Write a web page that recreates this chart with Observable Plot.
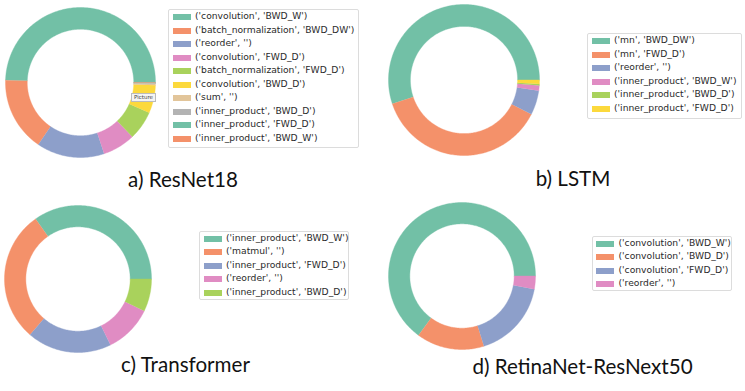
<!DOCTYPE html>
<html>
<head>
<meta charset="utf-8">
<script src="https://cdn.jsdelivr.net/npm/d3@7"></script>
<script src="https://cdn.jsdelivr.net/npm/@observablehq/plot@0.6"></script>
<style>
  html, body { margin: 0; padding: 0; background: #fff; }
  #root { position: relative; width: 745px; height: 391px; overflow: hidden; background: #fff; }
  .ring { position: absolute; }
  .legend { position: absolute; border: 1px solid #dcdcdc; border-radius: 2px; background: #fff; box-sizing: border-box; }
  .row { position: absolute; left: 0; height: 12px; white-space: nowrap; font-family: "DejaVu Sans", sans-serif; font-size: 9.2px; color: #2a2a2a; }
  .patch { position: absolute; width: 18px; height: 6px; top: 3px; }
  .label { position: absolute; top: -1px; line-height: 12px; }
  .title { position: absolute; font-family: Lato, "Open Sans", sans-serif; font-size: 20.6px; color: #111; white-space: nowrap; transform: translateX(-50%); }
  .tip { position: absolute; font-family: "DejaVu Sans", sans-serif; font-size: 5.5px; color: #444; background: #f4f4f4; border: 1px solid #bbb; padding: 0 2px; line-height: 7px; }
</style>
</head>
<body>
<div id="root"></div>
<script>
// ---- Data ----
// Set2 palette, as it appears in the (slightly washed-out) reference
const set2 = ["#72c0a6", "#f4916a", "#8d9fca", "#e08cc3", "#a9d25c", "#fcd93c", "#e2c59a", "#b3b3b3"];

const resnetLabels = ["('convolution', 'BWD_W')", "('batch_normalization', 'BWD_DW')", "('reorder', '')", "('convolution', 'FWD_D')", "('batch_normalization', 'FWD_D')", "('convolution', 'BWD_D')", "('sum', '')", "('inner_product', 'BWD_D')", "('inner_product', 'FWD_D')", "('inner_product', 'BWD_W')"];
const resnetValues = [0.495, 0.160, 0.146, 0.070, 0.063, 0.060, 0.004, 0.001, 0.0005, 0.0005];

const lstmLabels = ["('mn', 'BWD_DW')", "('mn', 'FWD_D')", "('reorder', '')", "('inner_product', 'BWD_W')", "('inner_product', 'BWD_D')", "('inner_product', 'FWD_D')"];
const lstmValues = [0.551, 0.374, 0.0525, 0.011, 0.003, 0.0085];

const transformerLabels = ["('inner_product', 'BWD_W')", "('matmul', '')", "('inner_product', 'FWD_D')", "('reorder', '')", "('inner_product', 'BWD_D')"];
const transformerValues = [0.3475, 0.289, 0.186, 0.1056, 0.0714];

const retinaLabels = ["('convolution', 'BWD_W')", "('convolution', 'BWD_D')", "('convolution', 'FWD_D')", "('reorder', '')"];
const retinaValues = [0.6486, 0.149, 0.173, 0.0286];

const titles = ["a) ResNet18", "b) LSTM", "c) Transformer", "d) RetinaNet-ResNext50"];

// ---- Layout ----
const panels = [
  {labels: resnetLabels, values: resnetValues, cx: 79.5, cy: 82, R: 75,
   legend: {x: 168, y: 9, w: 191, h: 139}, title: {x: 183, y: 167}},
  {labels: lstmLabels, values: lstmValues, cx: 463, cy: 79.5, R: 75.5,
   legend: {x: 587, y: 33, w: 155, h: 86}, title: {x: 573, y: 166}},
  {labels: transformerLabels, values: transformerValues, cx: 77.5, cy: 278.3, R: 73.5,
   legend: {x: 199, y: 230.5, w: 150, h: 69}, title: {x: 185.5, y: 352}},
  {labels: retinaLabels, values: retinaValues, cx: 461, cy: 275.5, R: 73.5,
   legend: {x: 591.5, y: 235.5, w: 140.5, h: 55}, title: {x: 582.5, y: 354}}
];

const root = document.getElementById("root");
const inner = 0.71;

panels.forEach((p, pi) => {
  const total = d3.sum(p.values);
  const colors = p.labels.map((_, i) => set2[i % set2.length]);
  // slice outlines from cumulative fractions (matplotlib: start at 0°, counter-clockwise)
  const pts = [];
  let acc = 0;
  p.values.forEach((v, i) => {
    const a0 = acc / total * 2 * Math.PI;
    acc += v;
    const a1 = acc / total * 2 * Math.PI;
    const n = Math.max(2, Math.ceil((a1 - a0) / (Math.PI / 180)) + 1);
    const key = p.labels[i];
    for (let k = 0; k < n; k++) {
      const a = a0 + (a1 - a0) * k / (n - 1);
      pts.push({key, x: Math.cos(a), y: Math.sin(a)});
    }
    for (let k = n - 1; k >= 0; k--) {
      const a = a0 + (a1 - a0) * k / (n - 1);
      pts.push({key, x: inner * Math.cos(a), y: inner * Math.sin(a)});
    }
  });
  const size = 2 * p.R;
  const chart = Plot.plot({
    width: size, height: size,
    margin: 0,
    x: {domain: [-1, 1], axis: null},
    y: {domain: [-1, 1], axis: null},
    color: {type: "ordinal", domain: p.labels, range: colors},
    style: {background: "transparent", overflow: "visible"},
    marks: [
      Plot.line(pts, {x: "x", y: "y", z: "key", fill: "key", stroke: "key", strokeWidth: 0.4, curve: "linear"})
    ]
  });
  chart.classList.add("ring");
  chart.style.left = (p.cx - p.R) + "px";
  chart.style.top = (p.cy - p.R) + "px";
  root.appendChild(chart);

  // legend
  const lg = document.createElement("div");
  lg.className = "legend";
  Object.assign(lg.style, {left: p.legend.x + "px", top: p.legend.y + "px", width: p.legend.w + "px", height: p.legend.h + "px"});
  p.labels.forEach((lab, i) => {
    const row = document.createElement("div");
    row.className = "row";
    row.style.top = (1 + i * 13.5) + "px";
    const patch = document.createElement("div");
    patch.className = "patch";
    patch.style.left = "3.5px";
    patch.style.background = colors[i];
    const t = document.createElement("div");
    t.className = "label";
    t.style.left = "26px";
    t.textContent = lab;
    row.appendChild(patch);
    row.appendChild(t);
    lg.appendChild(row);
  });
  root.appendChild(lg);

  const tt = document.createElement("div");
  tt.className = "title";
  tt.style.left = p.title.x + "px";
  tt.style.top = p.title.y + "px";
  tt.textContent = titles[pi];
  root.appendChild(tt);
});

// small screenshot tooltip visible in the reference
const tip = document.createElement("div");
tip.className = "tip";
tip.style.left = "131px";
tip.style.top = "93px";
tip.textContent = "Picture";
root.appendChild(tip);
</script>
</body>
</html>
